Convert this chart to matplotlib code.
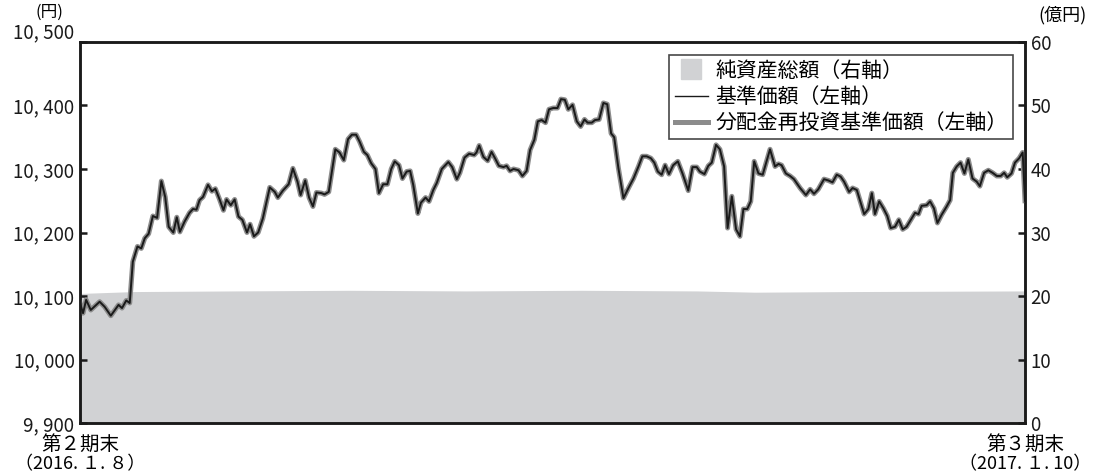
import matplotlib
matplotlib.use('Agg')
import matplotlib.pyplot as plt
import matplotlib.transforms as mtransforms
import numpy as np
from matplotlib.lines import Line2D

plt.rcParams['font.family'] = ['Noto Sans CJK JP', 'DejaVu Sans']

# position in trading days from 2016.1.8 and base price (yen)
days = [0, 0.8, 1.6, 2.8, 5.1, 6.4, 8.0, 10.0, 10.9, 12.0, 12.9, 13.7, 14.9, 15.9, 16.8,
        17.8, 18.9, 20.0, 21.1, 22.1, 23.0, 24.2, 25.1, 25.9, 27.1, 28.4, 29.3, 30.2,
        31.0, 31.9, 33.2, 34.2, 35.1, 36.2, 37.2, 38.0, 39.1, 40.1, 41.1, 42.1, 43.3,
        44.1, 45.1, 46.2, 47.4, 49.2, 50.5, 51.3, 52.6, 54.1, 55.2, 56.4, 57.2, 58.4,
        59.4, 60.4, 61.3, 62.6, 63.4, 64.5, 66.2, 67.3, 68.4, 69.5, 70.5, 71.6, 72.5,
        73.6, 74.5, 75.5, 76.6, 77.5, 78.6, 79.7, 80.7, 81.6,
        82.7, 83.6, 84.7, 85.6, 86.4, 87.6, 88.4, 89.6, 90.5, 91.6, 92.5, 93.8, 95.5,
        96.5, 97.7, 98.5, 99.7, 100.9, 102.2, 102.8, 103.5, 104.6, 105.7, 106.7, 107.6,
        108.6, 109.8, 110.6, 111.5, 112.4, 113.7, 114.7, 115.8, 116.7, 117.8, 118.7,
        119.7, 120.7, 121.6, 122.7, 123.8, 124.7, 125.7, 126.6, 127.7, 128.8, 129.8,
        130.8, 131.6, 132.7, 133.5, 134.6, 135.7, 136.7, 137.7, 138.5, 139.6, 140.9,
        142.2, 143.5, 144.8, 145.8, 146.9, 148.0, 148.9, 149.8, 150.8, 151.7, 152.7,
        153.8, 155.0, 156.2, 157.7, 158.8, 159.9, 160.7, 161.9, 162.9, 163.8,
        164.9, 165.9, 167.0, 167.9, 169.0, 170.1, 171.1, 172.0, 173.0, 173.9, 174.8,
        175.9, 177.0, 178.9, 180.2, 181.1, 181.9, 183.0, 184.1, 185.1, 186.7, 188.2,
        189.3, 190.3, 191.4, 192.9, 194.0, 195.1, 196.2, 197.2, 198.1, 199.4, 200.3,
        201.4, 202.2, 203.3, 204.4, 205.3, 206.1, 207.2, 208.3, 209.3, 210.2, 211.3,
        212.3, 213.3, 214.3, 215.6, 216.5, 217.4, 218.2, 219.5, 220.4, 221.4, 222.3,
        223.4, 224.7, 225.6, 226.3, 227.3, 228.3, 229.3, 230.3, 231.4, 232.5, 233.3,
        234.4, 235.5, 236.6, 237.7, 238.7, 239.6, 240.4, 241.5, 242.4, 243.5, 244.4, 245.0]
nav = [10089, 10073, 10094, 10078, 10091, 10083, 10069, 10086, 10081, 10093, 10089, 10154,
       10178, 10175, 10191, 10198, 10226, 10223, 10281, 10256, 10209, 10200, 10224, 10201,
       10217, 10231, 10237, 10236, 10251, 10256, 10275, 10265, 10269, 10252, 10235, 10252,
       10243, 10252, 10225, 10220, 10200, 10213, 10194, 10200, 10222, 10271, 10264, 10255,
       10266, 10276, 10301, 10280, 10259, 10282, 10255, 10241, 10263, 10262, 10260, 10264,
       10331, 10326, 10314, 10347, 10354, 10354, 10343, 10327, 10322, 10309, 10300, 10262,
       10276, 10276, 10300, 10312,
       10306, 10285, 10296, 10297, 10275, 10230, 10247, 10255, 10249, 10267, 10278, 10300,
       10311, 10303, 10284, 10294, 10318, 10324, 10322, 10326, 10337, 10319, 10313, 10327,
       10317, 10305, 10303, 10305, 10297, 10300, 10298, 10289, 10297, 10330, 10346, 10375,
       10377, 10373, 10394, 10396, 10396, 10410, 10409, 10394, 10401, 10375, 10367, 10378,
       10373, 10373, 10377, 10378, 10404, 10402, 10356, 10350, 10301, 10254, 10270, 10285,
       10304, 10320, 10320, 10317, 10310, 10296, 10291, 10306, 10292, 10306, 10312, 10293,
       10266, 10303, 10303, 10296, 10292, 10305, 10310,
       10338, 10331, 10304, 10207, 10257, 10205, 10194, 10237, 10237, 10249, 10312, 10293,
       10291, 10331, 10304, 10308, 10306, 10293, 10289, 10284, 10270, 10259, 10268, 10261,
       10268, 10284, 10282, 10279, 10291, 10288, 10280, 10264, 10270, 10267, 10251, 10229,
       10237, 10262, 10229, 10249, 10238, 10226, 10207, 10209, 10220, 10205, 10209, 10222,
       10231, 10229, 10242, 10243, 10249, 10238, 10215, 10228, 10241, 10251, 10294, 10304,
       10310, 10293, 10315, 10285, 10280, 10273, 10294, 10298, 10294, 10289, 10289, 10294,
       10287, 10293, 10310, 10317, 10326, 10250]
# no distribution in the period: reinvested NAV equals NAV
nav_reinvested = list(nav)

# net assets (100 million yen)
asset_days = [0, 14, 40, 70, 100, 130, 160, 175, 200, 245]
net_assets = [20.4, 20.7, 20.8, 20.9, 20.8, 20.9, 20.8, 20.6, 20.7, 20.8]

left_ticks = [9900, 10000, 10100, 10200, 10300, 10400, 10500]
left_labels = ['9, 900', '10, 000', '10, 100', '10, 200', '10, 300', '10, 400', '10, 500']
right_ticks = [0, 10, 20, 30, 40, 50, 60]

fig = plt.figure(figsize=(11, 4.76), dpi=100)
ax2 = fig.add_axes([0.0727, 0.1113, 0.8591, 0.8005])
ax1 = ax2.twinx()
# price on left, assets on right
ax1.yaxis.tick_left()
ax2.yaxis.tick_right()

x_fill = np.linspace(0, 245, 500)
ax2.fill_between(x_fill, 0, np.interp(x_fill, asset_days, net_assets),
                 color='#d1d2d4', linewidth=0)
ax2.set_ylim(0, 60)
ax2.set_yticks(right_ticks)
ax2.set_yticklabels([str(t) for t in right_ticks])

ax1.plot(days, nav_reinvested, color='#8c8c8c', lw=3.6)
ax1.plot(days, nav, color='#1a1a1a', lw=1.4)
ax1.set_ylim(9900, 10500)
ax1.set_yticks(left_ticks)
# top label is drawn separately, raised above the tick
ax1.set_yticklabels(left_labels[:-1] + [''])
ax1.set_xlim(0, 245)
ax1.set_xticks([])
ax2.set_xticks([])

for a in (ax1, ax2):
    for s in a.spines.values():
        s.set_linewidth(1.8)
        s.set_color('#1a1a1a')
    a.tick_params(axis='y', direction='in', length=5, width=1.8, labelsize=13.5,
                  pad=4, colors='#1a1a1a')

raise_tf = ax1.get_yaxis_transform() + mtransforms.ScaledTranslation(
    -4 / 72, 0.09, fig.dpi_scale_trans)
ax1.text(0, left_ticks[-1], left_labels[-1], transform=raise_tf, ha='right',
         va='center', fontsize=13.5, color='#1a1a1a')

fig.text(0.045, 0.974, '(円)', ha='center', va='center', fontsize=12)
fig.text(0.966, 0.968, '(億円)', ha='center', va='center', fontsize=13)
fig.text(0.0727, 0.066, '第２期末', ha='center', va='center', fontsize=14)
fig.text(0.0727, 0.025, '（2016. １. ８）', ha='center', va='center', fontsize=13)
fig.text(0.9318, 0.066, '第３期末', ha='center', va='center', fontsize=14)
fig.text(0.9318, 0.025, '（2017. １. 10）', ha='center', va='center', fontsize=13)

handles = [Line2D([], [], color='#d1d2d4', marker='s', markersize=15, lw=0),
           Line2D([], [], color='#1a1a1a', lw=1.0),
           Line2D([], [], color='#8c8c8c', lw=3.6)]
labels = ['純資産総額（右軸）', '基準価額（左軸）', '分配金再投資基準価額（左軸）']
leg = ax1.legend(handles, labels, loc='upper right', bbox_to_anchor=(0.987, 0.967),
                 fontsize=15, frameon=True, fancybox=False, borderpad=0.25,
                 labelspacing=0.2, handlelength=1.6, handletextpad=0.35,
                 borderaxespad=0.0)
leg.get_frame().set_edgecolor('#1a1a1a')
leg.get_frame().set_linewidth(1.2)

fig.savefig('out.png', dpi=100)
